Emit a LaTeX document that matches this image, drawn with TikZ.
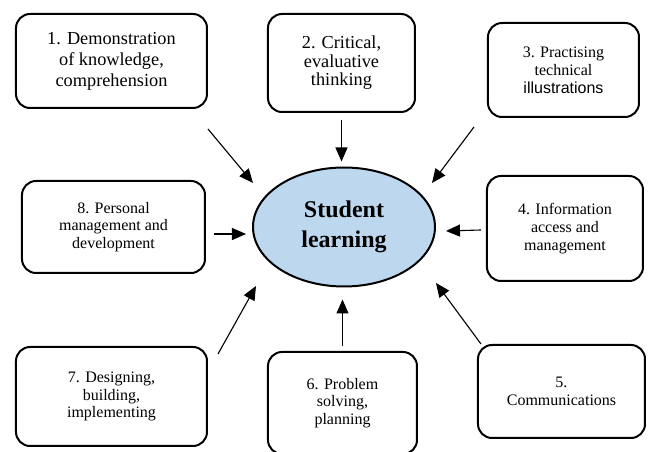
\documentclass[tikz,border=0pt]{standalone}
\usepackage{fontspec}
\setmainfont{Liberation Serif}
\newfontfamily\arialfont{Liberation Sans}
\usepackage{tikz}
\usetikzlibrary{arrows.meta,shapes.geometric}
\definecolor{learnblue}{HTML}{BDD7EE}

\begin{document}
\begin{tikzpicture}[x=1pt, y=1pt,
    outcome/.style={draw, line width=2pt, rounded corners=14pt, align=center, inner sep=0pt,
      font=\fontsize{16}{17.8}\selectfont},
    bigtext/.style={font=\fontsize{18.3}{21}\selectfont},
    feed/.style={-{Triangle[length=14pt, width=12pt]}, line width=1.1pt}]
  \useasboundingbox (-344,-225) rectangle (305,227);

  % --- centre ---
  \node[ellipse, draw, line width=2pt, fill=learnblue, minimum width=182pt, minimum height=119pt,
        inner sep=0pt, align=center, font=\fontsize{24}{30}\selectfont\bfseries] (stu) at (0,0)
    {Student\\learning};

  % --- the eight outcomes, clockwise from top left ---
  \node[outcome, bigtext, minimum width=191pt, minimum height=94pt] (b1) at (-232.5,166)
    {1. Demonstration\\of knowledge,\\comprehension};
  \node[outcome, bigtext, minimum width=147pt, minimum height=98pt,
        font=\fontsize{18.3}{18.6}\selectfont] (b2) at (-2.5,164)
    {2. Critical,\\evaluative\\thinking};
  \node[outcome, minimum width=151pt, minimum height=94pt] (b3) at (219.5,157)
    {3. Practising\\technical\\{\arialfont illustrations}};
  \node[outcome, minimum width=156pt, minimum height=105pt] (b4) at (221,-1.5)
    {4. Information\\access and\\management};
  \node[outcome, minimum width=167pt, minimum height=93pt] (b5) at (217.5,-164.5)
    {5.\\Communications};
  \node[outcome, minimum width=149pt, minimum height=102pt] (b6) at (-1.5,-176)
    {6. Problem\\solving,\\planning};
  \node[outcome, minimum width=191pt, minimum height=99pt] (b7) at (-232.5,-169.5)
    {7. Designing,\\building,\\implementing};
  \node[outcome, minimum width=183pt, minimum height=92pt] (b8) at (-230.5,0)
    {8. Personal\\management and\\development};

  % --- arrows into the centre ---
  \draw[feed] ([shift={(0,-20)}]b1.south east) -- ([shift={(-91,44)}]stu.center);
  \draw[feed] ([yshift=-7pt]b2.south) -- ([yshift=5pt]b2.south |- stu.north);
  \draw[feed] ([shift={(-13,-9)}]b3.south west) -- ([shift={(88,44)}]stu.center);
  \draw[feed] ([shift={(-5,-1.5)}]b4.west) -- ([shift={(10,-4)}]stu.east);
  \draw[feed] ([shift={(4,0)}]b5.north west) -- ([shift={(92,-56)}]stu.center);
  \draw[feed] ([yshift=5pt]b6.north) -- ([yshift=-12pt]b6.north |- stu.south);
  \draw[feed] ([shift={(10,-8)}]b7.north east) -- ([shift={(-88,-59)}]stu.center);
  \draw[feed] ([shift={(8,-7)}]b8.east) -- ([shift={(-6,-7)}]stu.west);
\end{tikzpicture}
\end{document}
